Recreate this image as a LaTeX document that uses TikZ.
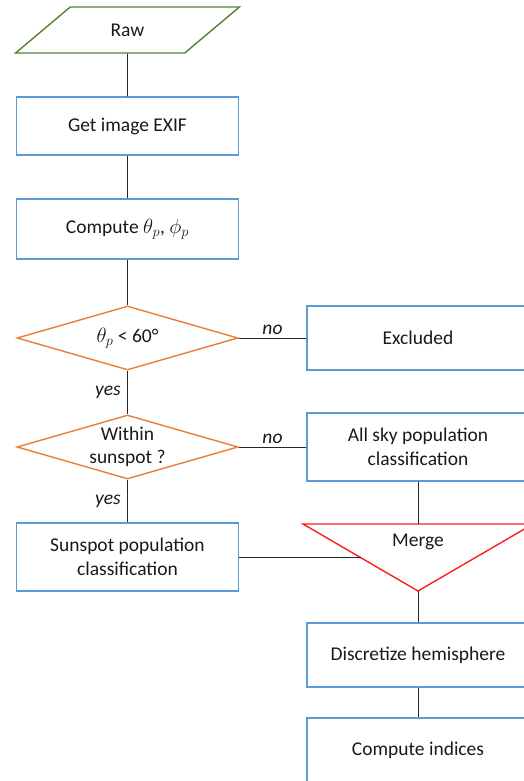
\documentclass[tikz,border=0pt]{standalone}
\usepackage{amsmath}
\usepackage{fontspec}
\setmainfont{Carlito}
\usetikzlibrary{shapes.geometric, calc}

\definecolor{boxblue}{RGB}{91,155,213}
\definecolor{decorange}{RGB}{237,125,49}
\definecolor{iogreen}{RGB}{84,130,53}
\definecolor{mergered}{RGB}{250,30,30}

\begin{document}
\begin{tikzpicture}[x=1pt, y=-1pt,
    every node/.style={font=\fontsize{19.5}{23.5}\selectfont, text=black!90},
    box/.style={draw=boxblue, line width=1.4pt, minimum width=222pt, inner sep=2pt, align=center},
    decision/.style={diamond, draw=decorange, line width=1.4pt, aspect=3.45, minimum width=221pt, minimum height=64pt, inner sep=0pt, align=center},
    io/.style={trapezium, trapezium left angle=45, trapezium right angle=135, trapezium stretches=true, draw=iogreen, line width=1.4pt, minimum width=225pt, minimum height=46pt},
    link/.style={draw=black!85, line width=0.8pt},
    answer/.style={font=\fontsize{19.5}{23.5}\selectfont\itshape}]
    % Marco
    \useasboundingbox (0,0) rectangle (523,781);

    % Columna izquierda
    \node[io] (raw) at (127.5,30) {Raw};
    \node[box, minimum height=58pt] (exif) at (127.5,126) {Get image EXIF};
    \node[box, minimum height=60pt] (angles) at (127.5,229) {Compute $\theta_p$, $\phi_p$};
    \node[decision] (zenith) at (127.5,338) {$\theta_p$ < 60°};
    \node[decision] (sunspotq) at (127.5,447) {Within\\sunspot ?};
    \node[box, minimum height=68pt] (sunspotpop) at (127.5,557) {Sunspot population\\classification};

    % Columna derecha
    \node[box, minimum height=64pt] (excluded) at (418,338) {Excluded};
    \node[box, minimum height=68pt] (allsky) at (418,447) {All sky population\\classification};
    \node[box, minimum height=64pt] (discretize) at (418,655) {Discretize hemisphere};
    \node[box, minimum height=64pt] (indices) at (418,750) {Compute indices};

    % Triangulo de union
    \coordinate (mergeL) at (303,524);
    \coordinate (mergeR) at (533,524);
    \coordinate (mergeTip) at (418,591);
    \coordinate (mergeTop) at (418,524);
    \coordinate (mergeIn) at ($(mergeL)!0.5!(mergeTip)$);
    \draw[mergered, line width=1.4pt] (mergeL) -- (mergeR) -- (mergeTip) -- cycle;
    \node (merge) at (418,542) {Merge};

    % Conectores
    \draw[link] (raw.south) -- (exif.north);
    \draw[link] (exif.south) -- (angles.north);
    \draw[link] (angles.south) -- (zenith.north);
    \draw[link] (zenith.east) -- node[answer, midway, above] {no} (excluded.west);
    \draw[link] (zenith.south) -- node[answer, midway, left, xshift=-3pt] {yes} (sunspotq.north);
    \draw[link] (sunspotq.east) -- node[answer, midway, above] {no} (allsky.west);
    \draw[link] (sunspotq.south) -- node[answer, midway, left, xshift=-3pt] {yes} (sunspotpop.north);
    \draw[link] (sunspotpop.east) -- (sunspotpop.east -| mergeIn);
    \draw[link] (allsky.south) -- (mergeTop);
    \draw[link] (mergeTip) -- (discretize.north);
    \draw[link] (discretize.south) -- (indices.north);
\end{tikzpicture}
\end{document}
